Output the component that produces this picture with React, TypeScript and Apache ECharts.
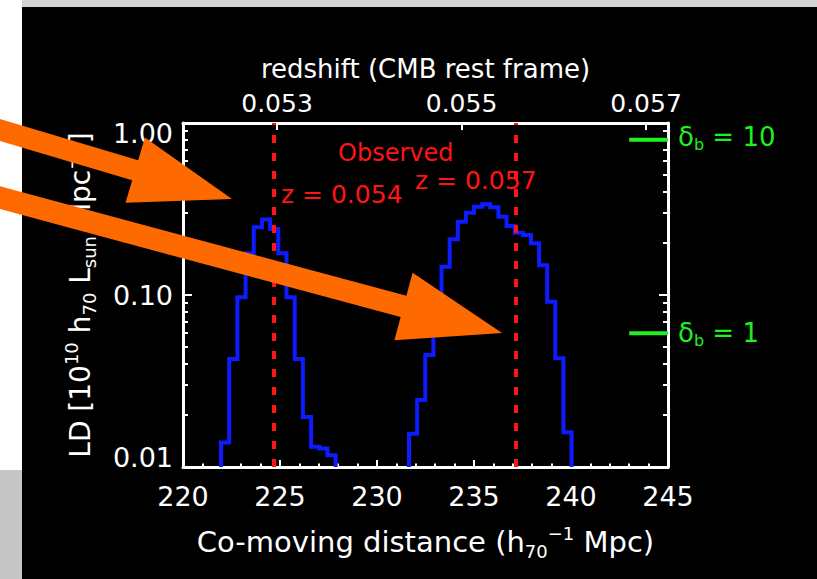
import React, { useEffect, useRef } from 'react';
import * as echarts from 'echarts';

// Luminosity density along the line of sight, binned in co-moving distance (h70^-1 Mpc)
const nearBinStart = 221.96;
const nearBinWidth = 0.422;
const nearLD = [0.0139, 0.0425, 0.097, 0.175, 0.248, 0.275, 0.242, 0.175, 0.097, 0.0425, 0.0195, 0.0131, 0.0128, 0.0117];

const farBinStart = 231.65;
const farBinWidth = 0.419;
const farLD = [0.0156, 0.0245, 0.0448, 0.0875, 0.146, 0.211, 0.267, 0.301, 0.326, 0.337, 0.324, 0.285, 0.252, 0.23, 0.223, 0.2, 0.149, 0.0914, 0.0429, 0.0159];

// Observed cluster distances (dashed lines)
const observedDistances = [224.7, 237.17];

// Overdensity reference levels (delta_b) drawn at the right edge
const deltaLabels = ['10', '1'];
const deltaLD = [0.8, 0.06];
const deltaSpan = [243, 245];

// Axis ranges and tick values
const distanceRange = [220, 245];
const distanceStep = 5;
const redshiftRange = [0.051981, 0.057238];
const redshiftTicks = [0.053, 0.055, 0.057];
const ldRange = [0.01, 1];
const ldMinorTicks = [0.02, 0.03, 0.04, 0.05, 0.06, 0.07, 0.08, 0.09, 0.2, 0.3, 0.4, 0.5, 0.6, 0.7, 0.8, 0.9];

const F = 'DejaVu Sans';
const WHITE = '#ffffff';
const BLUE = '#0d1bff';
const RED = '#ff1414';
const GREEN = '#1ff01f';
const ORANGE = '#ff6a00';

// Outline of a histogram as a closed staircase down to the axis floor
function staircase(start: number, width: number, values: number[], floor: number) {
  const pts: number[][] = [[start, floor]];
  values.forEach((v, i) => {
    const l = start + i * width;
    pts.push([l, v], [l + width, v]);
  });
  pts.push([start + values.length * width, floor]);
  return pts;
}

function arrowPolygon(tail: number[], tip: number[], shaftHalf: number, headHalf: number, headLen: number) {
  const dx = tip[0] - tail[0];
  const dy = tip[1] - tail[1];
  const len = Math.hypot(dx, dy);
  const ux = dx / len, uy = dy / len;
  const nx = -uy, ny = ux;
  const bx = tip[0] - ux * headLen, by = tip[1] - uy * headLen;
  return [
    [tail[0] + nx * shaftHalf, tail[1] + ny * shaftHalf],
    [bx + nx * shaftHalf, by + ny * shaftHalf],
    [bx + nx * headHalf, by + ny * headHalf],
    [tip[0], tip[1]],
    [bx - nx * headHalf, by - ny * headHalf],
    [bx - nx * shaftHalf, by - ny * shaftHalf],
    [tail[0] - nx * shaftHalf, tail[1] - ny * shaftHalf],
  ];
}

const script = (size: number, align: 'top' | 'bottom', color: string) => ({
  fontSize: size,
  lineHeight: size,
  verticalAlign: align,
  color,
  fontFamily: F,
});

const axisLine = { show: true, onZero: false, lineStyle: { color: WHITE, width: 3 } };

function buildOption() {
  const yBase = { type: 'log', logBase: 10, min: ldRange[0], max: ldRange[1], splitLine: { show: false } };
  return {
    animation: false,
    backgroundColor: '#000000',
    grid: { left: 183, right: 149, top: 123, bottom: 112, containLabel: false, outerBoundsMode: 'none' },
    xAxis: [
      {
        type: 'value',
        position: 'bottom',
        min: distanceRange[0],
        max: distanceRange[1],
        interval: distanceStep,
        axisLine,
        axisTick: { show: true, inside: true, length: 7, lineStyle: { color: WHITE, width: 2 } },
        minorTick: { show: true, splitNumber: 5, length: 3.5, lineStyle: { color: WHITE, width: 2 } },
        splitLine: { show: false },
        minorSplitLine: { show: false },
        axisLabel: { color: WHITE, fontFamily: F, fontSize: 27, margin: 16 },
        name: 'Co-moving distance (h{sub|70}{sup|−1} Mpc)',
        nameLocation: 'middle',
        nameGap: 57,
        nameMoveOverlap: false,
        nameTextStyle: {
          color: WHITE,
          fontFamily: F,
          fontSize: 29,
          lineHeight: 36,
          rich: { sub: script(18, 'bottom', WHITE), sup: script(18, 'top', WHITE) },
        },
      },
      {
        type: 'value',
        position: 'top',
        min: redshiftRange[0],
        max: redshiftRange[1],
        axisLine,
        axisTick: { show: true, inside: true, length: 7, customValues: redshiftTicks, lineStyle: { color: WHITE, width: 2 } },
        splitLine: { show: false },
        axisLabel: {
          color: WHITE,
          fontFamily: F,
          fontSize: 25,
          margin: 7,
          customValues: redshiftTicks,
          formatter: (v: number) => v.toFixed(3),
        },
        name: 'redshift (CMB rest frame)',
        nameLocation: 'middle',
        nameGap: 41,
        nameMoveOverlap: false,
        nameTextStyle: { color: WHITE, fontFamily: F, fontSize: 26, lineHeight: 26 },
      },
    ],
    yAxis: [
      {
        ...yBase,
        position: 'left',
        axisLine,
        axisTick: { show: true, inside: true, length: 9, lineStyle: { color: WHITE, width: 2 } },
        axisLabel: {
          color: WHITE,
          fontFamily: F,
          fontSize: 27,
          lineHeight: 20,
          margin: 10,
          verticalAlignMinLabel: 'bottom',
          verticalAlignMaxLabel: 'top',
          formatter: (v: number) => v.toFixed(2),
        },
        name: 'LD [10{sup|10} h{sub|70} L{sub|sun} Mpc{sup|−1}]',
        nameLocation: 'middle',
        nameGap: 85,
        nameMoveOverlap: false,
        nameTextStyle: {
          color: WHITE,
          fontFamily: F,
          fontSize: 28,
          lineHeight: 36,
          rich: { sub: script(18, 'bottom', WHITE), sup: script(18, 'top', WHITE) },
        },
      },
      {
        ...yBase,
        position: 'left',
        axisLine: { show: false },
        axisLabel: { show: false },
        axisTick: { show: true, inside: true, length: 5, customValues: ldMinorTicks, lineStyle: { color: WHITE, width: 2 } },
      },
      {
        ...yBase,
        position: 'right',
        axisLine,
        axisLabel: { show: false },
        axisTick: { show: true, inside: true, length: 9, lineStyle: { color: WHITE, width: 2 } },
      },
      {
        ...yBase,
        position: 'right',
        axisLine: { show: false },
        axisLabel: { show: false },
        axisTick: { show: true, inside: true, length: 5, customValues: ldMinorTicks, lineStyle: { color: WHITE, width: 2 } },
      },
    ],
    series: [
      {
        type: 'line',
        name: 'near',
        xAxisIndex: 0,
        yAxisIndex: 0,
        data: staircase(nearBinStart, nearBinWidth, nearLD, ldRange[0]),
        symbol: 'none',
        silent: true,
        z: 3,
        lineStyle: { color: BLUE, width: 4, join: 'miter', cap: 'butt' },
        markLine: {
          silent: true,
          symbol: ['none', 'none'],
          label: { show: false },
          z: 5,
          lineStyle: { color: RED, width: 4, type: [8, 10] },
          data: observedDistances.map((d) => ({ xAxis: d })),
        },
      },
      {
        type: 'line',
        name: 'far',
        xAxisIndex: 0,
        yAxisIndex: 0,
        data: staircase(farBinStart, farBinWidth, farLD, ldRange[0]),
        symbol: 'none',
        silent: true,
        z: 3,
        lineStyle: { color: BLUE, width: 4, join: 'miter', cap: 'butt' },
      },
      ...deltaLD.map((v, i) => ({
        type: 'line',
        name: 'delta ' + deltaLabels[i],
        xAxisIndex: 0,
        yAxisIndex: 0,
        data: [[deltaSpan[0], v], [deltaSpan[1], v]],
        symbol: 'none',
        silent: true,
        z: 4,
        lineStyle: { color: GREEN, width: 4 },
      })),
    ],
    graphic: [
      { type: 'rect', z: 0, shape: { x: 0, y: 0, width: 22, height: 470 }, style: { fill: '#ffffff' } },
      { type: 'rect', z: 0, shape: { x: 0, y: 470, width: 22, height: 109 }, style: { fill: '#c6c6c6' } },
      { type: 'rect', z: 0, shape: { x: 22, y: 0, width: 795, height: 7 }, style: { fill: '#d4d4d4' } },
      {
        type: 'text', z: 10, x: 338, y: 153,
        style: { text: 'Observed', fill: RED, fontSize: 24, fontFamily: F, verticalAlign: 'middle' },
      },
      {
        type: 'text', z: 10, x: 281, y: 194,
        style: { text: 'z = 0.054', fill: RED, fontSize: 25, fontFamily: F, verticalAlign: 'middle' },
      },
      {
        type: 'text', z: 10, x: 415, y: 180,
        style: { text: 'z = 0.057', fill: RED, fontSize: 25, fontFamily: F, verticalAlign: 'middle' },
      },
      ...deltaLabels.map((lab, i) => ({
        type: 'text', z: 10, x: 678, y: i === 0 ? 137 : 333,
        style: {
          text: 'δ{b|b} = ' + lab,
          fill: GREEN,
          fontSize: 26,
          fontFamily: F,
          lineHeight: 30,
          verticalAlign: 'middle',
          rich: { b: { fontSize: 16, lineHeight: 16, verticalAlign: 'bottom', fill: GREEN, fontFamily: F } },
        },
      })),
      {
        type: 'polygon', z: 20,
        shape: { points: arrowPolygon([-10, 127], [232, 199], 10.5, 34, 101) },
        style: { fill: ORANGE },
      },
      {
        type: 'polygon', z: 20,
        shape: { points: arrowPolygon([-10, 195], [502, 333], 11, 35, 102) },
        style: { fill: ORANGE },
      },
    ],
  };
}

export default function App() {
  const ref = useRef<HTMLDivElement>(null);
  useEffect(() => {
    if (!ref.current) return;
    const chart = echarts.init(ref.current, null, { renderer: 'svg' });
    chart.setOption(buildOption() as any);
    return () => chart.dispose();
  }, []);
  return <div ref={ref} style={{ position: 'fixed', left: 0, top: 0, width: 817, height: 579 }} />;
}
